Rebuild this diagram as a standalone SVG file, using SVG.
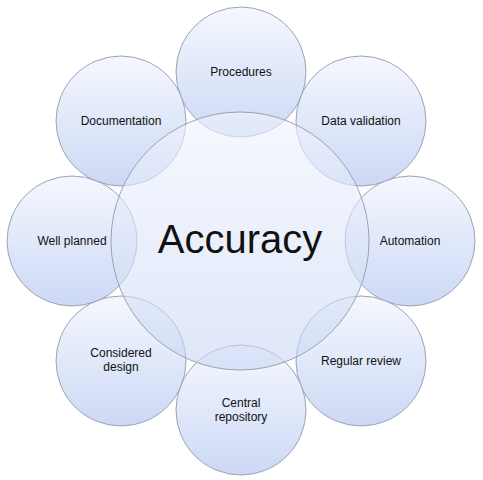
<svg xmlns="http://www.w3.org/2000/svg" width="483" height="480" viewBox="0 0 483 480">
<defs>
<linearGradient id="g" x1="0" y1="0" x2="0" y2="1">
<stop offset="0" stop-color="#f3f6fe"/>
<stop offset="1" stop-color="#c3d2f3"/>
</linearGradient>
<linearGradient id="gc" x1="0" y1="0" x2="0" y2="1">
<stop offset="0" stop-color="#f0f4fd"/>
<stop offset="1" stop-color="#c8d6f5"/>
</linearGradient>
</defs>
<style>
.s{fill:url(#g);fill-opacity:0.85;stroke:#9aa3b3;stroke-width:1}
.c{fill:url(#gc);fill-opacity:0.6;stroke:#9aa3b3;stroke-width:1}
text{font-family:"Liberation Sans",Arial,sans-serif;font-size:12px;fill:#111;text-anchor:middle}
.big{font-size:40px}
</style>
<rect width="483" height="480" fill="#fff"/>
<g id="procedures"><circle class="s" cx="241" cy="72" r="65"/><text x="241" y="76">Procedures</text></g>
<g id="data-validation"><circle class="s" cx="361" cy="121" r="65"/><text x="361" y="125">Data validation</text></g>
<g id="automation"><circle class="s" cx="410" cy="241" r="65"/><text x="410" y="245">Automation</text></g>
<g id="regular-review"><circle class="s" cx="361" cy="361" r="65"/><text x="361" y="365">Regular review</text></g>
<g id="central-repository"><circle class="s" cx="241" cy="410" r="65"/><text x="241" y="407">Central</text><text x="241" y="421">repository</text></g>
<g id="considered-design"><circle class="s" cx="121" cy="361" r="65"/><text x="121" y="357">Considered</text><text x="121" y="371">design</text></g>
<g id="well-planned"><circle class="s" cx="72" cy="241" r="65"/><text x="72" y="245">Well planned</text></g>
<g id="documentation"><circle class="s" cx="121" cy="121" r="65"/><text x="121" y="125">Documentation</text></g>
<g id="accuracy"><circle class="c" cx="240" cy="241" r="129"/><text class="big" x="240" y="253">Accuracy</text></g>
<g id="connectors"></g>
</svg>
